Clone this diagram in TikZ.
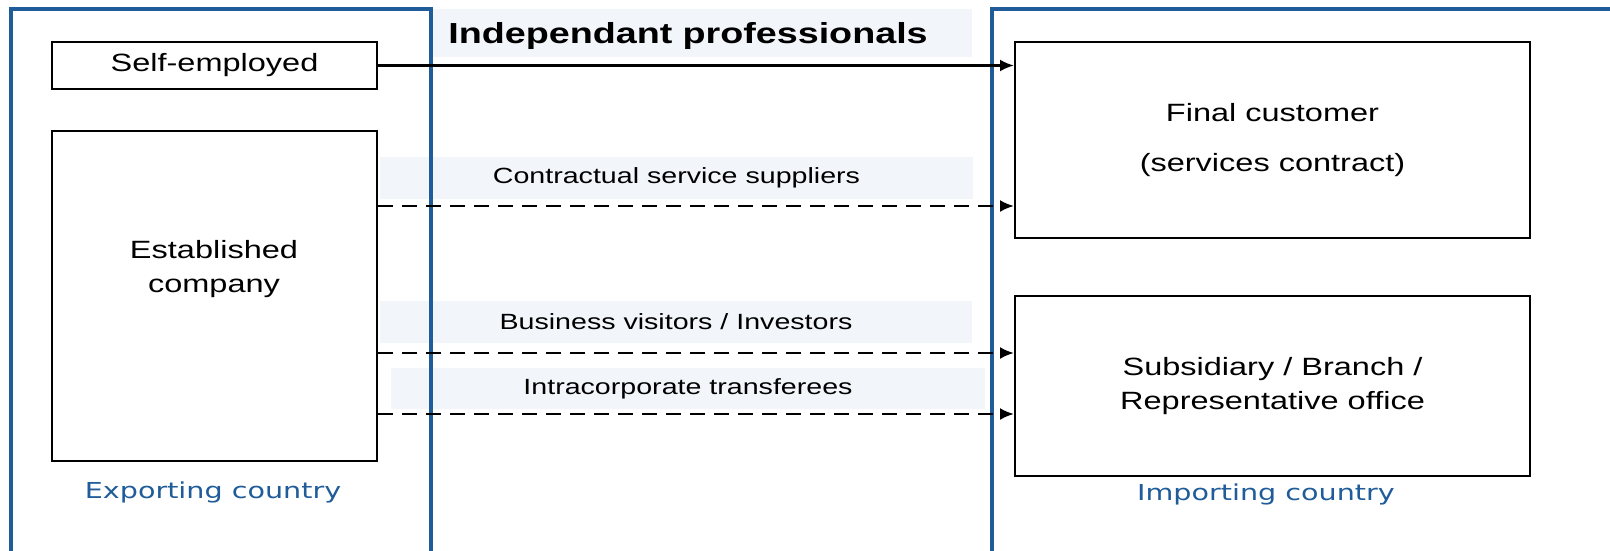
\documentclass[tikz,border=0pt]{standalone}
\usepackage{fontspec}
\setmainfont{Liberation Sans}[FakeStretch=1.3]
\newfontfamily\lblfont{DejaVu Sans}[FakeStretch=1.3]
\usetikzlibrary{arrows.meta,calc}
\definecolor{panelblue}{HTML}{1F5C99}
\definecolor{bandfill}{HTML}{F2F5FA}
\tikzset{
  panel/.style={draw=panelblue, line width=3.6pt},
  box/.style={draw=black, line width=2pt, fill=white, inner sep=0pt},
  boxtext/.style={align=center, font=\fontsize{25}{34}\selectfont, inner sep=0pt},
  band/.style={fill=bandfill, draw=none, inner sep=0pt, font=\fontsize{22}{26}\selectfont},
  solidarrow/.style={line width=2.4pt, -{Latex[length=14pt,width=12pt]}},
  dasharrow/.style={solidarrow, dash pattern=on 15pt off 9pt},
  country/.style={text=panelblue, inner sep=0pt, font=\lblfont\fontsize{22}{26}\selectfont}
}
\begin{document}
\begin{tikzpicture}[x=1pt,y=-1pt]
\useasboundingbox[fill=white] (0,0) rectangle (1610,550);
% bands
\node[band, minimum width=540pt, minimum height=48pt] (hdr) at (702,33) {};
\node[inner sep=0pt, font=\bfseries\fontsize{29}{33}\selectfont] (hdrtext) at (688,36) {Independant\hspace{0.35em}professionals};
\node[band, minimum width=593pt, minimum height=42pt] (cs) at (676.5,178) {Contractual service suppliers};
\node[band, minimum width=592pt, minimum height=42pt] (bv) at (676,322) {Business visitors / Investors};
\node[band, minimum width=594pt, minimum height=41pt] (it) at (688,388.5) {Intracorporate transferees};
% panels
\draw[panel] (11,553) -- (11,9) -- (431,9) -- (431,553);
\draw[panel] (992,553) -- (992,9) -- (1613,9);
% boxes
\node[box, minimum width=325pt, minimum height=47pt, boxtext] (se) at (214.5,65.5) {Self-employed};
\node[box, minimum width=325pt, minimum height=330pt] (ec) at (214.5,296) {};
\node[boxtext] (ectext) at (214,269) {Established\\company};
\node[box, minimum width=515pt, minimum height=196pt, boxtext] (fc) at (1272.5,140) {Final customer\\[16pt](services contract)};
\node[box, minimum width=515pt, minimum height=180pt, boxtext] (sb) at (1272.5,386) {Subsidiary / Branch /\\Representative office};
% country labels
\node[country] (exp) at (213,492) {Exporting country};
\node[country] (imp) at (1266,494) {Importing country};
% arrows
\draw[solidarrow] (se.east) -- (se.east -| fc.west);
\coordinate (a1) at (ec.east |- 0,206);
\coordinate (a2) at (ec.east |- 0,353);
\coordinate (a3) at (ec.east |- 0,414);
\draw[dasharrow] (a1) -- (a1 -| fc.west);
\draw[dasharrow] (a2) -- (a2 -| sb.west);
\draw[dasharrow] (a3) -- (a3 -| sb.west);
\end{tikzpicture}
\end{document}
